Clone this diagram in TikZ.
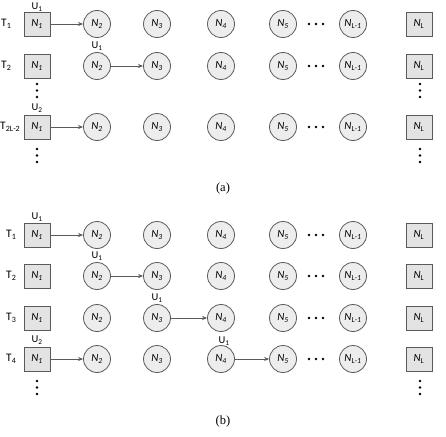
\documentclass[tikz,border=0pt]{standalone}
\usepackage{fontspec}
\setmainfont{Carlito}
\newfontfamily\capfont{Liberation Serif}
\usetikzlibrary{arrows.meta}
\definecolor{sqfill}{HTML}{E3E3E3}
\definecolor{cfill}{HTML}{EDEDED}
\definecolor{nodeline}{HTML}{5A5A5A}
\newcommand\sbs[1]{\textsubscript{#1}}
\tikzset{
  sq/.style={draw=nodeline, fill=sqfill, minimum width=26pt, minimum height=24pt, inner sep=0pt, line width=0.8pt, font=\fontsize{11}{11}\selectfont\itshape},
  circ/.style={circle, draw=nodeline, fill=cfill, minimum size=27pt, inner sep=0pt, line width=0.8pt, font=\fontsize{11}{11}\selectfont\itshape},
  arr/.style={draw=nodeline, line width=0.6pt, -{Stealth[length=5pt,width=4pt]}},
  tlab/.style={font=\fontsize{11.5}{11.5}\selectfont, anchor=west, inner sep=0pt},
  ulab/.style={font=\fontsize{10.5}{10.5}\selectfont, inner sep=0pt},
  dotn/.style={circle, fill=black, inner sep=0pt, minimum size=2.8pt},
  capt/.style={font=\capfont\fontsize{12.5}{12.5}\selectfont, inner sep=0pt},
}
\newcommand\mkrow[2]{%
  \node[sq] (#1-1) at (37,#2) {N\sbs{1}};
  \node[circ] (#1-2) at (97,#2) {N\sbs{2}};
  \node[circ] (#1-3) at (157,#2) {N\sbs{3}};
  \node[circ] (#1-4) at (221,#2) {N\sbs{4}};
  \node[circ] (#1-5) at (283,#2) {N\sbs{5}};
  \node[dotn] (#1-da) at (309,#2) {};
  \node[dotn] (#1-db) at (316,#2) {};
  \node[dotn] (#1-dc) at (323,#2) {};
  \node[circ] (#1-6) at (353,#2) {N\sbs{L-1}};
  \node[sq] (#1-7) at (419,#2) {N\sbs{L}};
}
\newcommand\mkvdots[3]{%
  \node[dotn] (#1a) at (#2,#3) {};
  \node[dotn] (#1b) at (#2,#3+6.5) {};
  \node[dotn] (#1c) at (#2,#3+13) {};
}
\begin{document}
\begin{tikzpicture}[x=1pt,y=-1pt]
\useasboundingbox (0,0) rectangle (446,436);
% (a)
\mkrow{a1}{24}
\mkrow{a2}{66}
\mkrow{a3}{127}
\node[tlab] (ta1) at (1,24) {T\sbs{1}};
\node[tlab] (ta2) at (1,66) {T\sbs{2}};
\node[tlab] (ta3) at (0,127) {T\sbs{2L-2}};
\mkvdots{avl}{37}{84}
\mkvdots{avr}{420}{84}
\mkvdots{avl2}{37}{149}
\mkvdots{avr2}{420}{149}
\node[ulab] (ua1) at (37,7) {U\sbs{1}};
\node[ulab] (ua2) at (97,46) {U\sbs{1}};
\node[ulab] (ua3) at (37,108) {U\sbs{2}};
\draw[arr] (a1-1) -- (a1-2);
\draw[arr] (a2-2) -- (a2-3);
\draw[arr] (a3-1) -- (a3-2);
\node[capt] (capa) at (223,188) {(a)};
% (b)
\mkrow{b1}{235}
\mkrow{b2}{276}
\mkrow{b3}{318}
\mkrow{b4}{359}
\node[tlab] (tb1) at (6,235) {T\sbs{1}};
\node[tlab] (tb2) at (6,276) {T\sbs{2}};
\node[tlab] (tb3) at (6,318) {T\sbs{3}};
\node[tlab] (tb4) at (6,359) {T\sbs{4}};
\mkvdots{bvl}{37}{381}
\mkvdots{bvr}{420}{381}
\node[ulab] (ub1) at (37,217) {U\sbs{1}};
\node[ulab] (ub2) at (97,256) {U\sbs{1}};
\node[ulab] (ub3) at (157,298) {U\sbs{1}};
\node[ulab] (ub4) at (37,340) {U\sbs{2}};
\node[ulab] (ub5) at (224,341) {U\sbs{1}};
\draw[arr] (b1-1) -- (b1-2);
\draw[arr] (b2-2) -- (b2-3);
\draw[arr] (b3-3) -- (b3-4);
\draw[arr] (b4-1) -- (b4-2);
\draw[arr] (b4-4) -- (b4-5);
\node[capt] (capb) at (223,421) {(b)};
\end{tikzpicture}
\end{document}
